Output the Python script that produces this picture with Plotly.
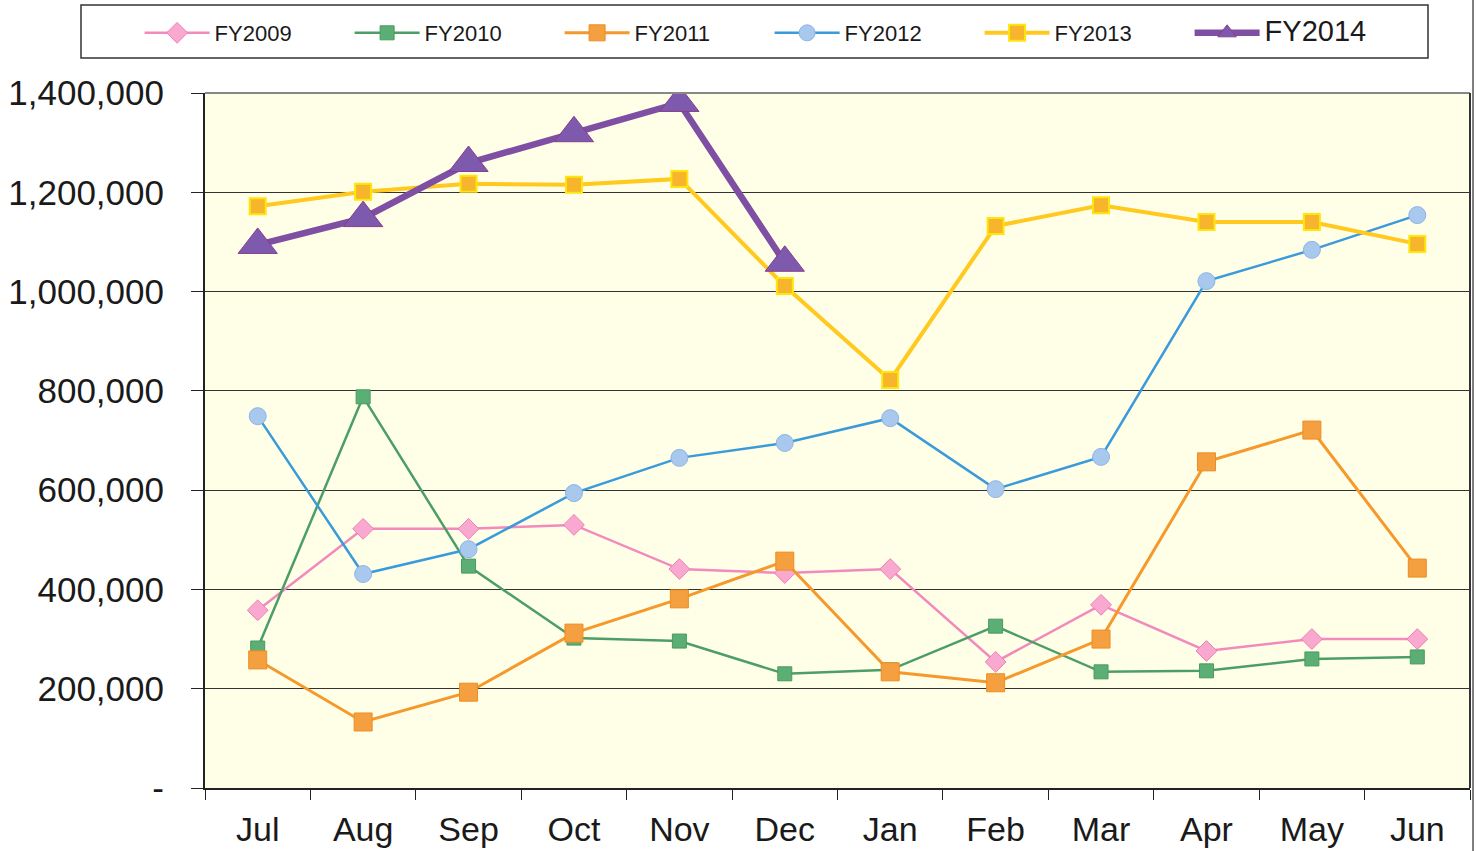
import plotly.graph_objects as go

months = ["Jul", "Aug", "Sep", "Oct", "Nov", "Dec", "Jan", "Feb", "Mar", "Apr", "May", "Jun"]

fy2009 = [358000, 522000, 522000, 530000, 441000, 433000, 441000, 254000, 369000, 276000, 300000, 300000]
fy2010 = [282000, 788000, 447000, 302000, 296000, 230000, 238000, 326000, 234000, 236000, 260000, 264000]
fy2011 = [258000, 133000, 193000, 312000, 381000, 457000, 234000, 212000, 300000, 657000, 721000, 443000]
fy2012 = [749000, 431000, 481000, 594000, 665000, 695000, 745000, 602000, 667000, 1021000, 1084000, 1154000]
fy2013 = [1172000, 1201000, 1217000, 1215000, 1227000, 1011000, 822000, 1132000, 1174000, 1140000, 1140000, 1096000]
fy2014 = [1094000, 1148000, 1259000, 1319000, 1380000, 1058000]

y_tickvals = [0, 200000, 400000, 600000, 800000, 1000000, 1200000, 1400000]
y_ticktext = ["-", "200,000", "400,000", "600,000", "800,000", "1,000,000", "1,200,000", "1,400,000"]

FONT = "Liberation Sans, Arial, sans-serif"

fig = go.Figure()

series = [
    ("FY2009", fy2009, dict(color="#F28ABD", width=2.5), dict(symbol="diamond", size=16, color="#F9A9CF", line=dict(color="#EE7DB6", width=1))),
    ("FY2010", fy2010, dict(color="#4C9E66", width=2.5), dict(symbol="square", size=14, color="#5BAE74", line=dict(color="#4A9A60", width=1))),
    ("FY2011", fy2011, dict(color="#F5992C", width=3), dict(symbol="square", size=18, color="#F5A040", line=dict(color="#EE8C22", width=1))),
    ("FY2012", fy2012, dict(color="#3A9ADA", width=2.5), dict(symbol="circle", size=17, color="#A9C8EE", line=dict(color="#8DB5E6", width=1))),
    ("FY2013", fy2013, dict(color="#FFC91F", width=4), dict(symbol="square", size=16, color="#F6B52C", line=dict(color="#FFE60A", width=2))),
    ('<span style="font-size:29px">FY2014</span>', fy2014, dict(color="#7E4FA2", width=6.5), dict(symbol="triangle-up", size=34, color="#7D5AAE", line=dict(color="#8A3C8C", width=1))),
]

for name, vals, ln, mk in series:
    fig.add_trace(go.Scatter(
        x=months[:len(vals)], y=vals, name=name, mode="lines+markers",
        line=ln, marker=mk,
    ))

fig.update_layout(
    width=1477, height=851,
    margin=dict(l=205, r=7, t=93, b=63, autoexpand=False),
    paper_bgcolor="white",
    plot_bgcolor="#FFFFE8",
    font=dict(family=FONT, color="#1a1a1a"),
    showlegend=True,
    legend=dict(
        orientation="h", x=-0.0517, xanchor="left", y=1.0863, yanchor="middle",
        font=dict(family=FONT, size=22, color="#1a1a1a"),
        bgcolor="rgba(0,0,0,0)", borderwidth=0,
        entrywidth=130, entrywidthmode="pixels", itemwidth=65,
        traceorder="normal",
    ),
    xaxis=dict(
        type="category", categoryorder="array", categoryarray=months,
        range=[-0.5, 11.5], tickson="boundaries", automargin=False,
        ticks="outside", ticklen=10, tickcolor="#222", tickwidth=1,
        showline=True, linecolor="#222", linewidth=2,
        showgrid=False, zeroline=False,
        tickfont=dict(family=FONT, size=34, color="#1a1a1a"),
        ticklabelstandoff=10,
    ),
    yaxis=dict(
        range=[0, 1400000], tickvals=y_tickvals, ticktext=y_ticktext, automargin=False,
        ticks="outside", ticklen=12, tickcolor="#222", tickwidth=1,
        showline=True, linecolor="#222", linewidth=2, mirror=False,
        showgrid=True, gridcolor="#333", gridwidth=1, zeroline=False,
        tickfont=dict(family=FONT, size=35, color="#1a1a1a"),
        ticklabelstandoff=20,
    ),
    shapes=[
        dict(type="rect", xref="paper", yref="paper",
             x0=(81 - 205) / 1265, x1=(1428 - 205) / 1265,
             y0=(788 - 58) / 695, y1=(788 - 5) / 695,
             line=dict(color="#333", width=1.5), fillcolor="rgba(0,0,0,0)"),
        dict(type="line", xref="paper", yref="paper", x0=0, x1=1, y0=1, y1=1,
             line=dict(color="#888", width=2)),
        dict(type="line", xref="paper", yref="paper", x0=1, x1=1, y0=0, y1=1,
             line=dict(color="#333", width=2)),
        dict(type="line", xref="paper", yref="paper",
             x0=(1473 - 205) / 1265, x1=(1473 - 205) / 1265, y0=(788 - 851) / 695, y1=(788 - 0) / 695,
             line=dict(color="#555", width=1.5)),
    ],
)

fig.write_html(
    "out.html",
    config={"displayModeBar": False},
    post_script="document.body.style.margin='0';document.body.style.overflow='hidden';",
)
